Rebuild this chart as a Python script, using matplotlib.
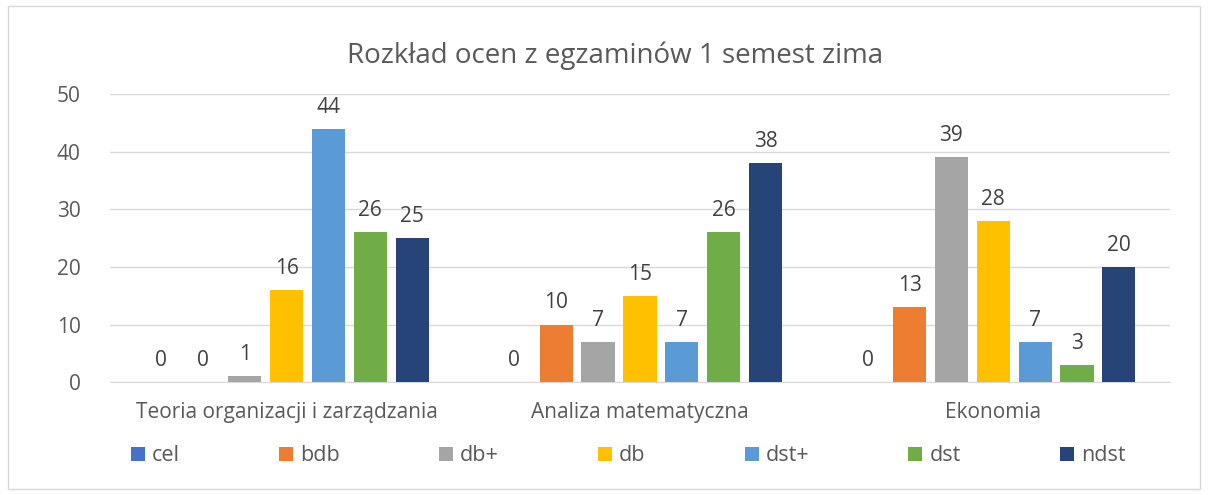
import matplotlib
matplotlib.use("Agg")
import matplotlib.pyplot as plt
import numpy as np
from matplotlib.patches import Rectangle

categories = ["Teoria organizacji i zarządzania", "Analiza matematyczna", "Ekonomia"]
series = ["cel", "bdb", "db+", "db", "dst+", "dst", "ndst"]
values = [
    [0, 0, 0],      # cel
    [0, 10, 13],    # bdb
    [1, 7, 39],     # db+
    [16, 15, 28],   # db
    [44, 7, 7],     # dst+
    [26, 26, 3],    # dst
    [25, 38, 20],   # ndst
]
colors = ["#4472C4", "#ED7D31", "#A5A5A5", "#FFC000", "#5B9BD5", "#70AD47", "#264478"]

plt.rcParams["font.family"] = ["Open Sans", "DejaVu Sans"]

fig = plt.figure(figsize=(12.08, 4.95), dpi=100)
ax = fig.add_axes([0.091, 0.228, 0.8775, 0.582])

x = np.arange(len(categories))
slot = 0.1185
width = 0.094
for i, (name, vals) in enumerate(zip(series, values)):
    pos = x + (i - 3) * slot
    bars = ax.bar(pos, vals, width, color=colors[i], label=name, zorder=3)
    ax.bar_label(bars, labels=[str(v) for v in vals], padding=8,
                 fontsize=15, color="#404040")

ax.set_xlim(-0.5, 2.5)
ax.set_ylim(0, 50)
ax.set_yticks(range(0, 51, 10))
ax.set_xticks(x)
ax.set_xticklabels(categories, fontsize=15)
ax.tick_params(axis="both", length=0, labelcolor="#595959")
ax.tick_params(axis="y", labelsize=15, pad=21)
ax.tick_params(axis="x", pad=14)
ax.grid(axis="y", color="#D9D9D9", linewidth=1, zorder=0)
for s in ["top", "right", "left"]:
    ax.spines[s].set_visible(False)
ax.spines["bottom"].set_color("#D9D9D9")

fig.suptitle("Rozkład ocen z egzaminów 1 semest zima", x=0.509, y=0.888,
             va="center", fontsize=20, color="#595959")

fig.legend(loc="center", bbox_to_anchor=(0.520, 0.079), ncol=7, frameon=False,
           fontsize=15.5, handlelength=0.65, handleheight=0.65,
           columnspacing=4.6, handletextpad=0.33, labelcolor="#595959")

fig.patches.append(Rectangle((0.007, 0.012), 0.986, 0.976, transform=fig.transFigure,
                             fill=False, edgecolor="#D9D9D9", linewidth=1))

fig.savefig("out.png", dpi=100, facecolor="white")
